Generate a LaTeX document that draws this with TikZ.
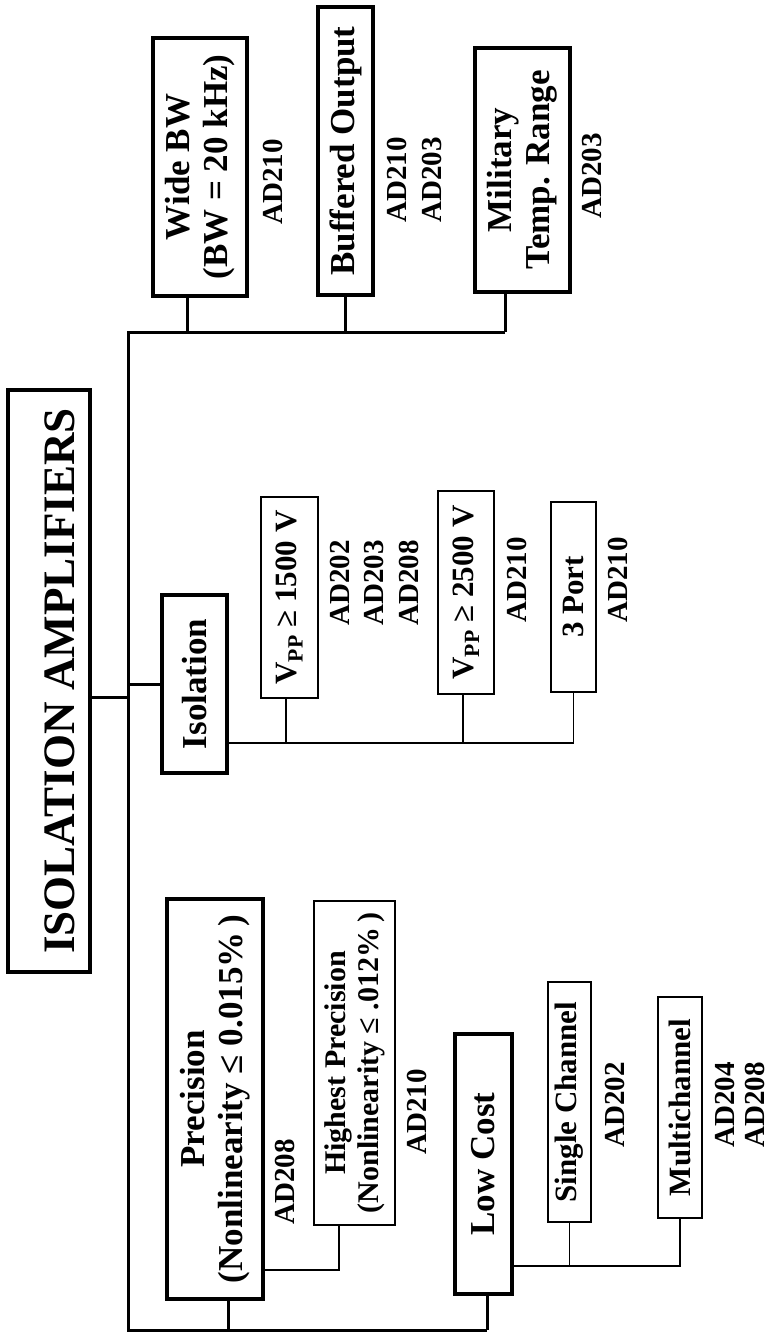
\documentclass[tikz,border=0pt]{standalone}
\usepackage{fontspec}
\setmainfont{Liberation Serif}
\begin{document}
\begin{tikzpicture}[x=1pt,y=1pt,
  titlebox/.style={draw, line width=3.5pt, rotate=90, inner sep=0pt, align=center,
    font=\fontsize{45}{50}\selectfont\bfseries},
  mainbox/.style={draw, line width=3.5pt, rotate=90, inner sep=0pt, align=center,
    font=\fontsize{35}{38}\selectfont\bfseries},
  subbox/.style={draw, line width=2pt, rotate=90, inner sep=0pt, align=center,
    font=\fontsize{31}{33}\selectfont\bfseries},
  partno/.style={rotate=90, inner sep=0pt, align=center,
    font=\fontsize{29}{34.5}\selectfont\bfseries},
  bus/.style={line width=3pt},
  subbus/.style={line width=1.5pt}]
\fill[white] (0,0) rectangle (772,-1337);
\useasboundingbox (0,0) rectangle (772,-1337);

% title
\node[titlebox, minimum width=582pt, minimum height=82pt, text height=50pt, text depth=0pt]
  (title) at (49,-681) {ISOLATION AMPLIFIERS};

% top branch
\node[mainbox, minimum width=258pt, minimum height=94pt] (wide) at (200,-167) {Wide BW\\(BW = 20 kHz)};
\node[mainbox, minimum width=288pt, minimum height=55pt] (buf) at (345.5,-151) {Buffered Output};
\node[mainbox, minimum width=244pt, minimum height=95pt] (mil) at (522.5,-170) {Military\\Temp. Range};
\node[partno] (adwide) at (273,-182) {AD210};
\node[partno] (adbuf) at (414.5,-180) {AD210\\AD203};
\node[partno] (admil) at (592,-176) {AD203};

% isolation branch
\node[mainbox, minimum width=178pt, minimum height=65pt] (isol) at (194.5,-684) {Isolation};
\node[subbox, minimum width=201pt, minimum height=57pt] (vpa) at (289.5,-597.5) {V\textsubscript{PP} ≥ 1500 V};
\node[subbox, minimum width=203pt, minimum height=56pt] (vpb) at (466,-592.5) {V\textsubscript{PP} ≥ 2500 V};
\node[subbox, minimum width=190pt, minimum height=45pt] (port) at (573.5,-597) {3 Port};
\node[partno] (advpa) at (374,-583) {AD202\\AD203\\AD208};
\node[partno] (advpb) at (517,-580) {AD210};
\node[partno] (adport) at (618,-580) {AD210};

% precision branch
\node[mainbox, minimum width=400pt, minimum height=96pt] (prec) at (215,-1099) {Precision\\(Nonlinearity ≤ 0.015\%\,)};
\node[subbox, minimum width=324pt, minimum height=81pt, font=\fontsize{30}{33}\selectfont\bfseries] (hp) at (354.5,-1063) {Highest Precision\\(Nonlinearity ≤ .012\%\,)};
\node[partno] (adprec) at (285,-1182) {AD208};
\node[partno] (adhp) at (417,-1112) {AD210};

% low cost branch
\node[mainbox, minimum width=260pt, minimum height=57pt] (low) at (483.5,-1164) {Low Cost};
\node[subbox, minimum width=240pt, minimum height=43pt] (sc) at (569.5,-1102) {Single Channel};
\node[subbox, minimum width=221pt, minimum height=44pt] (mc) at (680,-1107.5) {Multichannel};
\node[partno] (adsc) at (615,-1105) {AD202};
\node[partno, font=\fontsize{29}{30}\selectfont\bfseries] (admc) at (740,-1105) {AD204\\AD208};

% trunk
\coordinate (tl) at (128,-332);
\coordinate (bl) at (128,-1330);
\draw[bus] (505,0 |- tl) -- (tl) -- (bl) -- (487,0 |- bl);
\draw[bus] (wide.west -| 187,0) -- (187,0 |- tl);
\draw[bus] (buf.west -| 345,0) -- (345,0 |- tl);
\draw[bus] (mil.west -| 505,0) -- (505,0 |- tl);
\draw[bus] (title.south |- 0,-697) -- (tl |- 0,-697);
\draw[bus] (tl |- isol.north) -- (isol.north);
\draw[bus] (prec.west -| 228,0) -- (228,0 |- bl);
\draw[bus] (low.west -| 487,0) -- (487,0 |- bl);

% isolation sub-branches
\draw[subbus] (isol.south |- 0,-743) -- (port.west |- 0,-743) -- (port.west);
\draw[subbus] (vpa.west -| 286,0) -- (286,-743);
\draw[subbus] (vpb.west -| 463,0) -- (463,-743);

% precision sub-branch
\draw[subbus] (prec.south |- 0,-1270) -- (339,-1270) -- (hp.west -| 339,0);

% low cost sub-branches
\draw[subbus] (low.south |- 0,-1266) -- (mc.west |- 0,-1266) -- (mc.west);
\draw[subbus] (sc.west) -- (sc.west |- 0,-1266);
\end{tikzpicture}
\end{document}
